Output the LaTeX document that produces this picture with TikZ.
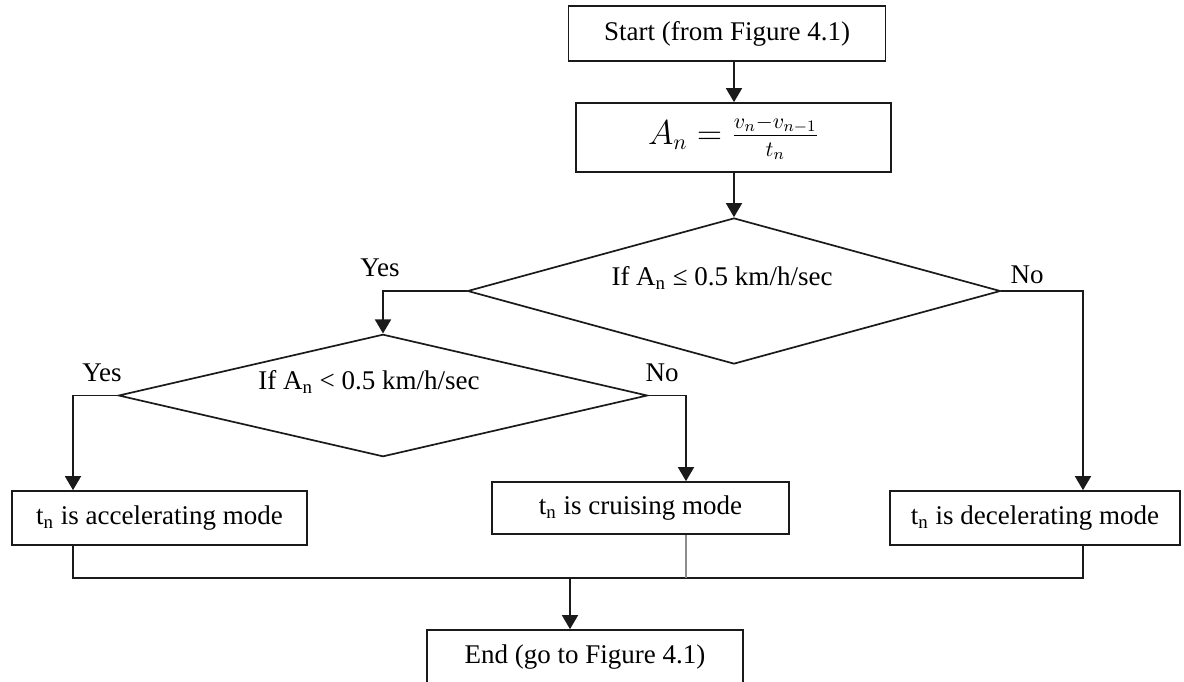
\documentclass[tikz,border=0pt]{standalone}
\usepackage{fontspec}
\setmainfont{Liberation Serif}
\usepackage{amsmath}
\usetikzlibrary{arrows.meta,positioning,shapes.geometric}
\definecolor{ink}{HTML}{1A1A1A}
\definecolor{faint}{HTML}{8C8C8C}

\begin{document}
\begin{tikzpicture}[x=0.5pt,y=-0.5pt,
  font=\fontsize{13.5}{16}\selectfont,
  box/.style={draw=ink,line width=0.85pt,inner sep=2pt},
  decision/.style={draw=ink,line width=0.85pt,shape=diamond,aspect=3.6,inner sep=1pt,
    text height=9pt,text depth=15pt},
  arr/.style={ink,line width=0.85pt,-{Triangle[length=7pt,width=8pt]}},
  link/.style={ink,line width=0.85pt}]
  \clip (0,0) rectangle (1184,681);

  % Steps
  \node[box,minimum width=158.5pt,minimum height=27.5pt] (start) at (727,33.5) {Start (from Figure 4.1)};
  \node[box,minimum width=157.5pt,minimum height=34.5pt,font=\fontsize{16}{19}\selectfont] (accel) at (733.5,137.5)
    {$A_n = \frac{v_n - v_{n-1}}{t_n}$};

  % Tests
  \node[decision,minimum width=266.5pt,minimum height=73pt] (test1) at (734,291)
    {If A\textsubscript{n} ≤ 0.5 km/h/sec\hspace*{12pt}};
  \node[decision,minimum width=264.5pt,minimum height=60.5pt] (test2) at (383,395.5)
    {If A\textsubscript{n} < 0.5 km/h/sec\hspace*{14pt}};

  % Modes
  \node[box,minimum width=147.5pt,minimum height=27pt] (accmode) at (159.5,518) {t\textsubscript{n} is accelerating mode};
  \node[box,minimum width=148.5pt,minimum height=26pt] (cruise) at (640.5,508) {t\textsubscript{n} is cruising mode};
  \node[box,minimum width=145pt,minimum height=27pt] (decmode) at (1035,518) {t\textsubscript{n} is decelerating mode};
  \node[box,minimum width=158pt,minimum height=27.5pt] (finish) at (585,657.5) {End (go to Figure 4.1)};

  % Branch labels
  \node (yes1) at (380,268) {Yes};
  \node (no1) at (1027,275) {No};
  \node (yes2) at (102,373) {Yes};
  \node (no2) at (662,373) {No};

  % Junctions
  \coordinate (jl) at (73,578);
  \coordinate (jc) at (686,578);
  \coordinate (jr) at (1083,578);
  \coordinate (je) at (570,578);

  % Connectors
  \draw[arr] (start.south -| test1.north) -- (accel.north -| test1.north);
  \draw[arr] (accel.south -| test1.north) -- (test1.north);
  \draw[arr] (test1.west) -| (test2.north);
  \draw[arr] (test1.east) -| (decmode.north -| jr);
  \draw[arr] (test2.west) -| (accmode.north -| jl);
  \draw[arr] (test2.east) -| (cruise.north -| jc);
  \draw[link] (accmode.south -| jl) -- (jl) -- (jr) -- (decmode.south -| jr);
  \draw[faint,line width=0.85pt] (cruise.south -| jc) -- (jc);
  \draw[arr] (je) -- (finish.north -| je);
\end{tikzpicture}
\end{document}
